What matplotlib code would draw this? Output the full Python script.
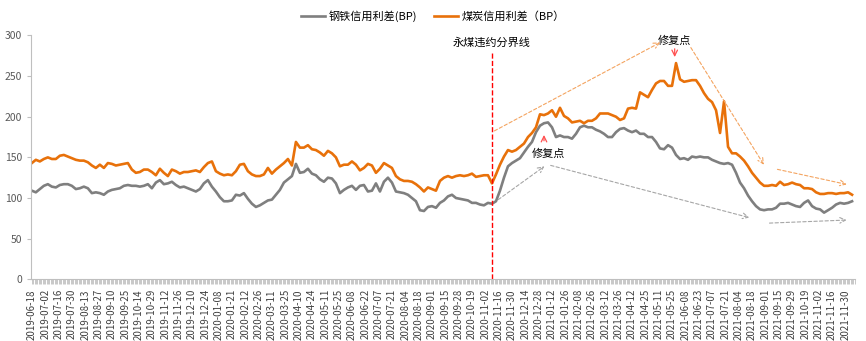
import numpy as np
import matplotlib
matplotlib.use("Agg")
import matplotlib.pyplot as plt
from matplotlib.ticker import MultipleLocator, FixedLocator

plt.rcParams['font.family'] = ['Noto Sans CJK SC', 'DejaVu Sans']

# one value every 3 trading days
coal = [143, 147, 145, 148, 150, 148, 148, 152, 153, 151, 149, 147, 146, 146, 144, 140, 137, 141, 137, 143,
        142, 140, 141, 142, 143, 135, 131, 132, 135, 135, 132, 128, 136, 131, 127,
        135, 133, 130, 132, 132, 133, 134, 132, 138, 143, 145, 133, 130, 128, 129, 128, 133, 141, 142, 133,
        129, 127, 127, 129, 137, 130, 135, 139, 143, 148, 140, 169, 162, 162, 165, 160,
        159, 156, 152, 158, 155, 150, 139, 141, 141, 145, 141, 134, 137, 142, 140, 131, 136, 143, 140, 137,
        127, 123, 121, 121, 120, 117, 113, 108, 113, 111, 109, 121, 125, 127, 125,
        127, 128, 127, 128, 130, 126, 127, 128, 128, 118, 129, 141, 151, 159, 157, 159, 163, 167, 175, 180,
        187, 203, 202, 204, 208, 200, 211, 201, 198, 193, 194, 195, 192, 195,
        195, 198, 204, 204, 204, 202, 200, 196, 198, 210, 211, 210, 230, 227, 224, 233, 241, 244, 244, 238,
        238, 266, 246, 243, 244, 245, 245, 238, 229, 222, 218, 208, 180, 219, 163, 155,
        155, 151, 146, 139, 131, 125, 119, 115, 115, 116, 115, 120, 116, 117, 119, 117, 116, 112, 112, 111,
        107, 105, 105, 106, 106, 105, 106, 106, 107, 104]

steel = [109, 107, 111, 115, 117, 114, 113, 116, 117, 117, 115, 111, 112, 114, 112, 106, 107, 106, 104, 108,
         110, 111, 112, 115, 116, 115, 115, 114, 115, 117, 112, 119, 122, 117, 118,
         120, 116, 113, 114, 112, 110, 108, 111, 118, 122, 114, 108, 101, 96, 96, 97, 104, 103, 106, 99,
         93, 89, 91, 94, 97, 98, 104, 110, 119, 123, 127, 142, 131, 132, 136, 130,
         128, 123, 120, 125, 124, 118, 106, 110, 113, 115, 110, 115, 116, 108, 109, 118, 108, 120, 125, 119,
         108, 107, 106, 104, 100, 96, 85, 84, 89, 90, 88, 94, 97, 102, 104,
         100, 99, 98, 97, 94, 94, 92, 91, 94, 93, 96, 109, 125, 139, 143, 146, 149, 156, 163, 169,
         181, 189, 192, 193, 187, 175, 177, 175, 175, 173, 179, 187, 189, 187,
         187, 184, 182, 179, 175, 175, 181, 185, 186, 183, 181, 183, 179, 179, 175, 175, 169, 161, 160, 165,
         162, 153, 148, 149, 147, 151, 150, 151, 150, 150, 147, 145, 143, 142, 143, 141,
         131, 119, 112, 103, 96, 90, 86, 85, 86, 86, 88, 93, 93, 94, 92, 90, 89, 94, 97, 90,
         87, 86, 82, 85, 88, 92, 94, 93, 94, 96]

date_labels = ['2019-06-18', '2019-07-02', '2019-07-16', '2019-07-30', '2019-08-13', '2019-08-27',
               '2019-09-10', '2019-09-25', '2019-10-14', '2019-10-29', '2019-11-12', '2019-11-26',
               '2019-12-10', '2019-12-24', '2020-01-08', '2020-01-21', '2020-02-12', '2020-02-26',
               '2020-03-11', '2020-03-25', '2020-04-10', '2020-04-24', '2020-05-11', '2020-05-25',
               '2020-06-08', '2020-06-22', '2020-07-07', '2020-07-21', '2020-08-04', '2020-08-18',
               '2020-09-01', '2020-09-15', '2020-09-28', '2020-10-19', '2020-11-02', '2020-11-16',
               '2020-11-30', '2020-12-14', '2020-12-28', '2021-01-12', '2021-01-26', '2021-02-08',
               '2021-02-26', '2021-03-12', '2021-03-26', '2021-04-12', '2021-04-25', '2021-05-11',
               '2021-05-25', '2021-06-08', '2021-06-23', '2021-07-07', '2021-07-21', '2021-08-04',
               '2021-08-18', '2021-09-01', '2021-09-15', '2021-09-29', '2021-10-19', '2021-11-02',
               '2021-11-16', '2021-11-30']

default_idx = 345  # trading-day index of the Yongmei default

x = np.arange(len(coal)) * 3
label_pos = np.arange(len(date_labels)) * 10

fig = plt.figure(figsize=(8.66, 3.41), dpi=100)
ax = fig.add_axes([0.036, 0.181, 0.951, 0.715])

ax.plot(x, steel, color='#7f7f7f', lw=1.9, label='钢铁信用利差(BP)')
ax.plot(x, coal, color='#e8710a', lw=1.9, label='煤炭信用利差（BP）')

ax.set_xlim(-0.5, 617)
ax.set_ylim(0, 300)
ax.yaxis.set_major_locator(MultipleLocator(50))

ax.xaxis.set_major_locator(FixedLocator(label_pos))
ax.set_xticklabels(date_labels, rotation=90, fontsize=7, color='#404040')
ax.xaxis.set_minor_locator(MultipleLocator(1))
ax.tick_params(axis='x', which='both', length=3.5, width=0.6, color='#bfbfbf')
ax.tick_params(axis='y', length=3, color='#bfbfbf', labelsize=7.5, labelcolor='#595959')

for s in ['top', 'right']:
    ax.spines[s].set_visible(False)
ax.spines['left'].set_color('#bfbfbf')
ax.spines['bottom'].set_color('#bfbfbf')

# default boundary
ax.vlines(default_idx, 0, 281, colors='red', linestyles='--', lw=1)
ax.text(default_idx, 291, '永煤违约分界线', ha='center', va='center', fontsize=8)

# repair points
ax.text(482, 294, '修复点', ha='center', va='center', fontsize=8)
ax.annotate('', xy=(482, 270), xytext=(482, 287),
            arrowprops=dict(arrowstyle='->', color='#ff5050', lw=0.9))
ax.text(387, 154, '修复点', ha='center', va='center', fontsize=8)
ax.annotate('', xy=(384, 181), xytext=(384, 167),
            arrowprops=dict(arrowstyle='->', color='#ff5050', lw=0.9))

# trend arrows
orange_arrows = [((345, 181), (473, 293)), ((493, 288), (550, 138)), ((557, 136), (613, 116))]
gray_arrows = [((348, 96), (386, 141)), ((387, 141), (540, 75)), ((551, 69), (613, 73))]
for start, end in orange_arrows:
    ax.annotate('', xy=end, xytext=start,
                arrowprops=dict(arrowstyle='->', color='#f4a460', lw=0.8, linestyle=(0, (3, 2))))
for start, end in gray_arrows:
    ax.annotate('', xy=end, xytext=start,
                arrowprops=dict(arrowstyle='->', color='#a6a6a6', lw=0.8, linestyle=(0, (3, 2))))

fig.legend(loc='upper center', bbox_to_anchor=(0.5, 1.0), ncol=2, frameon=False,
           fontsize=8, handlelength=2.2, columnspacing=1.5, handletextpad=0.3)

fig.savefig('out.png', dpi=100)
